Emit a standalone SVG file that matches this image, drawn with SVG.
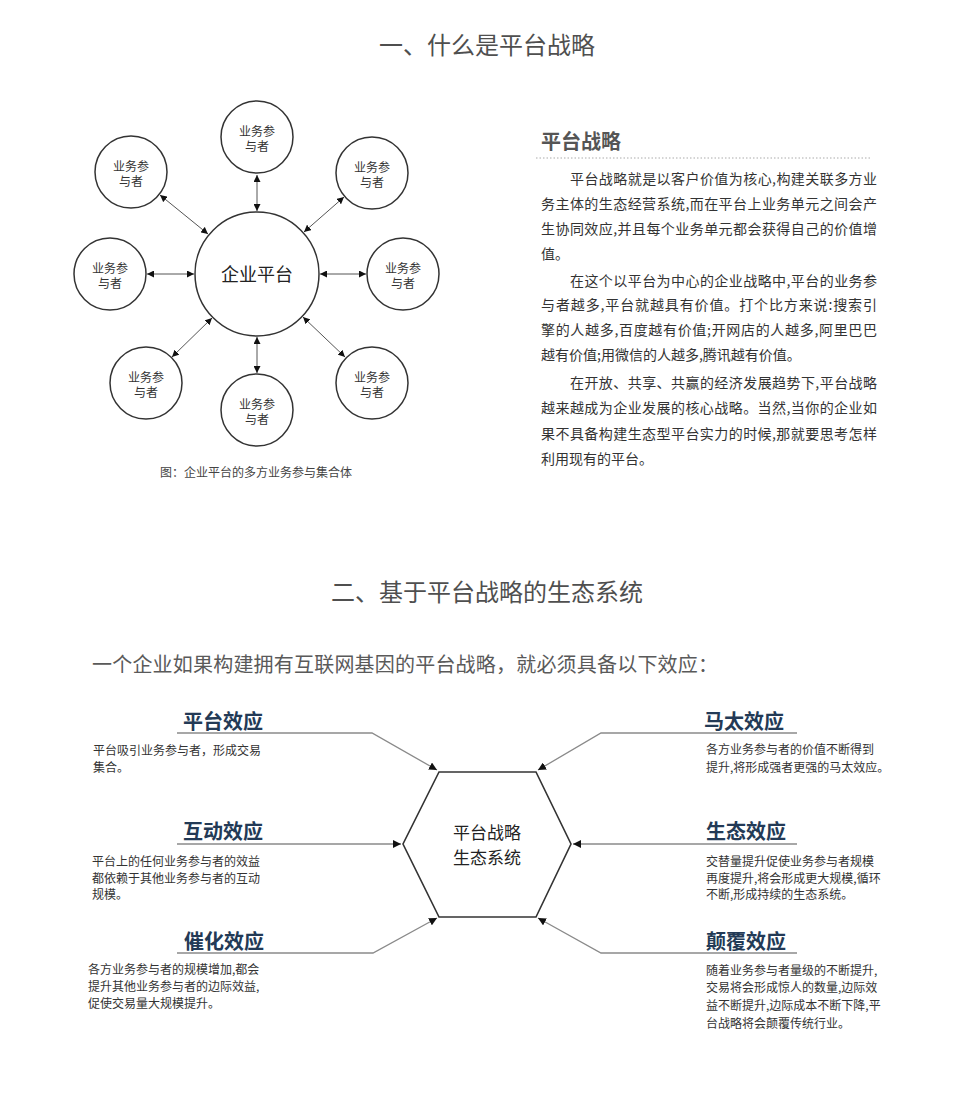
<svg xmlns="http://www.w3.org/2000/svg" width="975" height="1097" viewBox="0 0 975 1097">
<style>
text{font-family:"Noto Sans CJK SC","Noto Sans",sans-serif}
.title{font-size:24px;fill:#4f4f4f;text-anchor:middle}
.sub{font-size:20px;fill:#5a5a5a}
.circ{fill:#fff;stroke:#333;stroke-width:1.5}
.ct{font-size:12px;fill:#333;text-anchor:middle}
.big{font-size:18px;fill:#222;text-anchor:middle}
.hx{font-size:17px;fill:#222;text-anchor:middle}
.cap{font-size:12px;fill:#444;text-anchor:middle}
.h{font-size:20px;font-weight:bold;fill:#555}
.p{font-size:14px;fill:#333}
.eh{font-size:20px;font-weight:bold;fill:#233a56}
.ed{font-size:12px;fill:#333}
.arr{stroke:#555;stroke-width:1;fill:none}
.con{stroke:#8a8a8a;stroke-width:1.3;fill:none}
.hex{fill:#fff;stroke:#333;stroke-width:1.6}
</style>
<defs>
<marker id="ah" viewBox="0 0 10 10" refX="10" refY="5" markerWidth="7" markerHeight="7" markerUnits="userSpaceOnUse" orient="auto-start-reverse">
<path d="M0,0 L10,5 L0,10 z" fill="#111"/>
</marker>
<marker id="ah2" viewBox="0 0 10 10" refX="10" refY="5" markerWidth="8" markerHeight="8" markerUnits="userSpaceOnUse" orient="auto">
<path d="M0,0 L10,5 L0,10 z" fill="#111"/>
</marker>
</defs>
<rect width="975" height="1097" fill="#fff"/>

<text class="title" x="487" y="54">一、什么是平台战略</text>

<g id="connectors-1">
<line class="arr" x1="257" y1="175" x2="257" y2="211" marker-start="url(#ah)" marker-end="url(#ah)"/>
<line class="arr" x1="257" y1="373" x2="257" y2="337" marker-start="url(#ah)" marker-end="url(#ah)"/>
<line class="arr" x1="147" y1="274" x2="194" y2="274" marker-start="url(#ah)" marker-end="url(#ah)"/>
<line class="arr" x1="366" y1="274" x2="320" y2="274" marker-start="url(#ah)" marker-end="url(#ah)"/>
<line class="arr" x1="160" y1="195" x2="208" y2="234" marker-start="url(#ah)" marker-end="url(#ah)"/>
<line class="arr" x1="344" y1="197" x2="304" y2="232" marker-start="url(#ah)" marker-end="url(#ah)"/>
<line class="arr" x1="172" y1="357" x2="212" y2="318" marker-start="url(#ah)" marker-end="url(#ah)"/>
<line class="arr" x1="345" y1="357" x2="303" y2="317" marker-start="url(#ah)" marker-end="url(#ah)"/>
</g>

<g id="center"><circle class="circ" cx="257" cy="274" r="62"/><text class="big" x="257" y="281">企业平台</text></g>
<g id="p-top"><circle class="circ" cx="257" cy="137" r="36"/><text class="ct" x="257" y="136">业务参</text><text class="ct" x="257" y="151">与者</text></g>
<g id="p-ul"><circle class="circ" cx="131" cy="172" r="36"/><text class="ct" x="131" y="171">业务参</text><text class="ct" x="131" y="186">与者</text></g>
<g id="p-ur"><circle class="circ" cx="372" cy="173" r="36"/><text class="ct" x="372" y="172">业务参</text><text class="ct" x="372" y="187">与者</text></g>
<g id="p-l"><circle class="circ" cx="110" cy="274" r="36"/><text class="ct" x="110" y="273">业务参</text><text class="ct" x="110" y="288">与者</text></g>
<g id="p-r"><circle class="circ" cx="403" cy="274" r="36"/><text class="ct" x="403" y="273">业务参</text><text class="ct" x="403" y="288">与者</text></g>
<g id="p-ll"><circle class="circ" cx="146" cy="383" r="36"/><text class="ct" x="146" y="382">业务参</text><text class="ct" x="146" y="397">与者</text></g>
<g id="p-b"><circle class="circ" cx="257" cy="410" r="36"/><text class="ct" x="257" y="409">业务参</text><text class="ct" x="257" y="424">与者</text></g>
<g id="p-lr"><circle class="circ" cx="372" cy="383" r="36"/><text class="ct" x="372" y="382">业务参</text><text class="ct" x="372" y="397">与者</text></g>
<text class="cap" x="256" y="477">图：企业平台的多方业务参与集合体</text>

<g id="intro">
<text class="h" x="541" y="149">平台战略</text>
<line x1="536" y1="158" x2="872" y2="158" stroke="#aaa" stroke-width="1" stroke-dasharray="1.5,2"/>
<text class="p" x="570" y="184" textLength="307" lengthAdjust="spacing">平台战略就是以客户价值为核心,构建关联多方业</text>
<text class="p" x="541" y="209" textLength="336" lengthAdjust="spacing">务主体的生态经营系统,而在平台上业务单元之间会产</text>
<text class="p" x="541" y="234" textLength="336" lengthAdjust="spacing">生协同效应,并且每个业务单元都会获得自己的价值增</text>
<text class="p" x="541" y="259">值。</text>
<text class="p" x="570" y="286" textLength="307" lengthAdjust="spacing">在这个以平台为中心的企业战略中,平台的业务参</text>
<text class="p" x="541" y="310" textLength="336" lengthAdjust="spacing">与者越多,平台就越具有价值。打个比方来说:搜索引</text>
<text class="p" x="541" y="335" textLength="336" lengthAdjust="spacing">擎的人越多,百度越有价值;开网店的人越多,阿里巴巴</text>
<text class="p" x="541" y="360">越有价值;用微信的人越多,腾讯越有价值。</text>
<text class="p" x="570" y="388" textLength="307" lengthAdjust="spacing">在开放、共享、共赢的经济发展趋势下,平台战略</text>
<text class="p" x="541" y="413" textLength="336" lengthAdjust="spacing">越来越成为企业发展的核心战略。当然,当你的企业如</text>
<text class="p" x="541" y="439" textLength="336" lengthAdjust="spacing">果不具备构建生态型平台实力的时候,那就要思考怎样</text>
<text class="p" x="541" y="464">利用现有的平台。</text>
</g>

<text class="title" x="487" y="601">二、基于平台战略的生态系统</text>
<text class="sub" x="92" y="672" textLength="626" lengthAdjust="spacing">一个企业如果构建拥有互联网基因的平台战略，就必须具备以下效应：</text>

<g id="connectors-2">
<path class="con" d="M177,733 L372,733 L437,770" marker-end="url(#ah2)"/>
<path class="con" d="M177,844 L401,844" marker-end="url(#ah2)"/>
<path class="con" d="M177,953 L373,953 L437,918" marker-end="url(#ah2)"/>
<path class="con" d="M797,733 L601,733 L538,770" marker-end="url(#ah2)"/>
<path class="con" d="M797,844 L573,844" marker-end="url(#ah2)"/>
<path class="con" d="M797,953 L601,953 L538,918" marker-end="url(#ah2)"/>
</g>

<g id="hexagon">
<polygon class="hex" points="439,772 536,772 571,844 536,917 439,917 403,844"/>
<text class="hx" x="487" y="839">平台战略</text>
<text class="hx" x="487" y="864">生态系统</text>
</g>

<g id="e-platform">
<text class="eh" x="183" y="729">平台效应</text>
<text class="ed" x="93" y="755">平台吸引业务参与者，形成交易</text>
<text class="ed" x="93" y="772">集合。</text>
</g>
<g id="e-interact">
<text class="eh" x="183" y="839">互动效应</text>
<text class="ed" x="92" y="866">平台上的任何业务参与者的效益</text>
<text class="ed" x="92" y="883">都依赖于其他业务参与者的互动</text>
<text class="ed" x="92" y="899">规模。</text>
</g>
<g id="e-catalyst">
<text class="eh" x="184" y="949">催化效应</text>
<text class="ed" x="88" y="974">各方业务参与者的规模增加,都会</text>
<text class="ed" x="88" y="991">提升其他业务参与者的边际效益,</text>
<text class="ed" x="88" y="1008">促使交易量大规模提升。</text>
</g>
<g id="e-matthew">
<text class="eh" x="704" y="729">马太效应</text>
<text class="ed" x="706" y="754">各方业务参与者的价值不断得到</text>
<text class="ed" x="706" y="772">提升,将形成强者更强的马太效应。</text>
</g>
<g id="e-eco">
<text class="eh" x="706" y="839">生态效应</text>
<text class="ed" x="706" y="866">交替量提升促使业务参与者规模</text>
<text class="ed" x="706" y="883">再度提升,将会形成更大规模,循环</text>
<text class="ed" x="706" y="899">不断,形成持续的生态系统。</text>
</g>
<g id="e-disrupt">
<text class="eh" x="706" y="949">颠覆效应</text>
<text class="ed" x="706" y="975">随着业务参与者量级的不断提升,</text>
<text class="ed" x="706" y="992">交易将会形成惊人的数量,边际效</text>
<text class="ed" x="706" y="1010">益不断提升,边际成本不断下降,平</text>
<text class="ed" x="706" y="1028">台战略将会颠覆传统行业。</text>
</g>
</svg>
